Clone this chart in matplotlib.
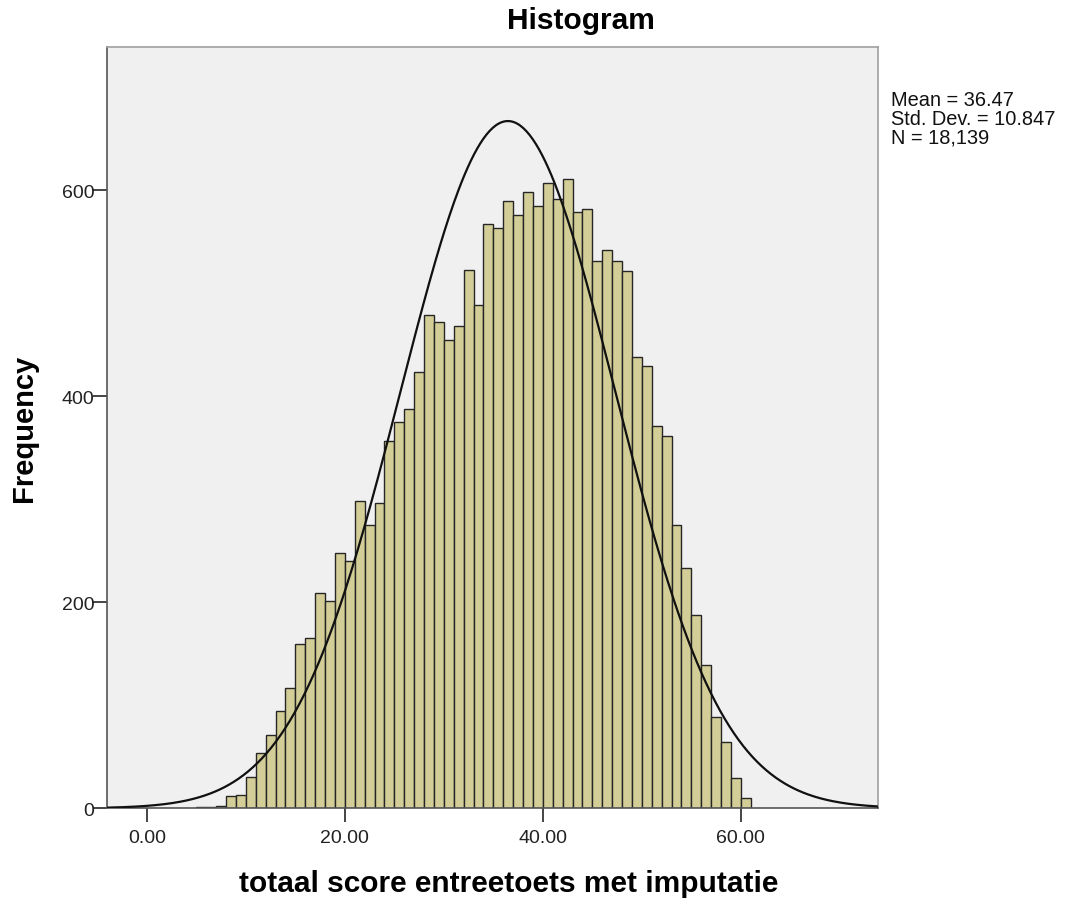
import numpy as np
import matplotlib
matplotlib.use("Agg")
import matplotlib.pyplot as plt
from matplotlib.ticker import FormatStrFormatter

plt.rcParams.update({'font.family': ['Liberation Sans', 'DejaVu Sans']})

# histogram bins (left edges, width 1) and counts
bin_left = np.arange(5, 61)
counts = [1, 1, 2, 12, 13, 30, 54, 71, 94, 117,
          159, 165, 209, 201, 248, 240, 298, 275, 296, 357,
          375, 388, 424, 479, 472, 455, 468, 523, 489, 567,
          563, 590, 576, 598, 585, 607, 591, 611, 579, 582,
          531, 542, 531, 522, 438, 429, 371, 361, 275, 233,
          188, 139, 89, 64, 29, 10]

mean = 36.47
std_dev = 10.847
n_obs = 18139
bin_width = 1.0

x_ticks = [0, 20, 40, 60]
y_ticks = [0, 200, 400, 600]

fig = plt.figure(figsize=(10.65, 9.03), dpi=100)
ax = fig.add_axes([0.1002, 0.1038, 0.7242, 0.843])
ax.set_facecolor('#F0F0F0')

ax.bar(bin_left, counts, width=bin_width, align='edge',
       color='#D3CE97', edgecolor='#262626', linewidth=1.0, zorder=2)

# fitted normal curve
xs = np.linspace(-4, 74, 500)
ys = n_obs * bin_width / (std_dev * np.sqrt(2 * np.pi)) * np.exp(-0.5 * ((xs - mean) / std_dev) ** 2)
ax.plot(xs, ys, color='#111111', linewidth=1.6, zorder=3)

ax.set_xlim(-4.05, 73.85)
ax.set_ylim(0, 739)
ax.set_xticks(x_ticks)
ax.set_yticks(y_ticks)
ax.xaxis.set_major_formatter(FormatStrFormatter('%.2f'))

for s in ax.spines.values():
    s.set_color('#A0A0A0')
    s.set_linewidth(1.2)
ax.spines['left'].set_color('#555555')
ax.spines['bottom'].set_color('#555555')

ax.tick_params(axis='both', direction='out', length=10, width=1.4,
               color='#444444', labelsize=14, labelcolor='#222222')
ax.tick_params(axis='y', pad=-1)
ax.tick_params(axis='x', pad=5)

ax.set_xlabel('totaal score entreetoets met imputatie', fontsize=21.5,
              fontweight='bold', va='center')
ax.xaxis.set_label_coords(0.5207, -0.0985)
ax.set_ylabel('Frequency', fontsize=21, fontweight='bold', va='center')
ax.yaxis.set_label_coords(-0.1077, 0.5)
fig.text(0.5455, 0.977, 'Histogram', fontsize=21.5, fontweight='bold',
         ha='center', va='center')

stats = ['Mean = 36.47', 'Std. Dev. = 10.847', 'N = 18,139']
for i, line in enumerate(stats):
    fig.text(891 / 1065, 1 - (101 + 18.5 * i) / 903, line, fontsize=14.4,
             ha='left', va='center', color='#111111')

fig.savefig('out.png', dpi=100)
